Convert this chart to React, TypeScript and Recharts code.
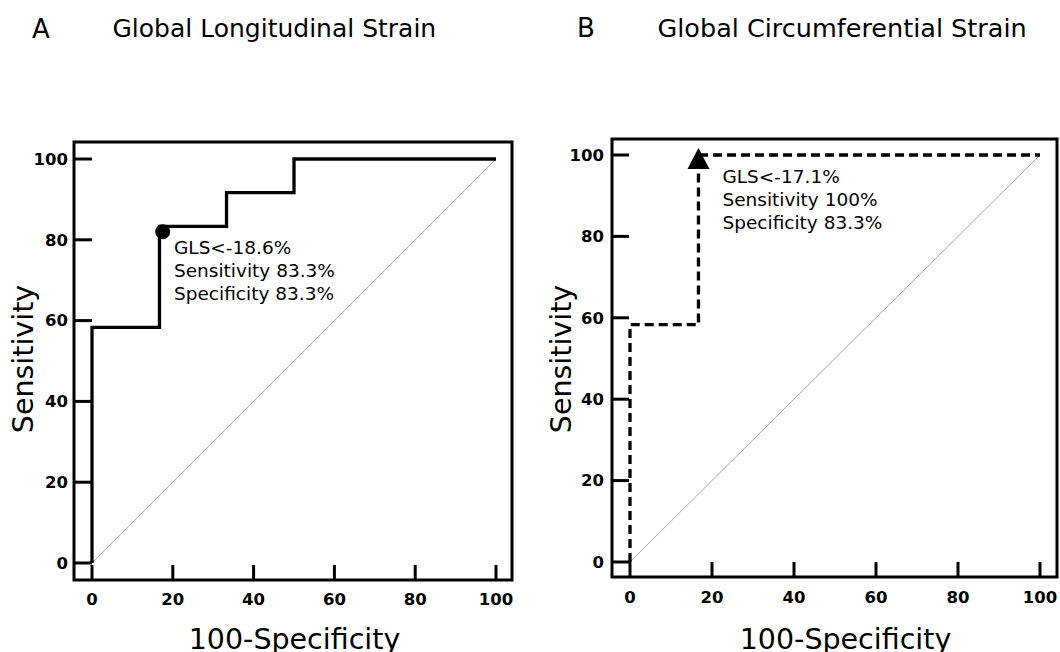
import { LineChart, Line, XAxis, YAxis, ReferenceArea, ReferenceDot } from 'recharts';

// ── Data ──────────────────────────────────────────────────────────────────────

const TICKS = [0, 20, 40, 60, 80, 100];

// ROC points, 100-specificity (x) vs sensitivity (y)
const GLS_FPR = [0, 0, 16.7, 16.7, 33.3, 33.3, 50, 50, 100];
const GLS_TPR = [0, 58.3, 58.3, 83.3, 83.3, 91.7, 91.7, 100, 100];
const GCS_FPR = [0, 0, 16.7, 16.7, 100];
const GCS_TPR = [0, 58.3, 58.3, 100, 100];
const DIAG_X = [0, 100];
const DIAG_Y = [0, 100];

const GLS_CUT_X = 17.5;
const GLS_CUT_Y = 82;
const GLS_CUT_TEXT = ['GLS<-18.6%', 'Sensitivity 83.3%', 'Specificity 83.3%'];
const GCS_CUT_X = 16.7;
const GCS_CUT_Y = 100;
const GCS_CUT_TEXT = ['GLS<-17.1%', 'Sensitivity 100%', 'Specificity 83.3%'];

const toPoints = (xs: number[], ys: number[]) => xs.map((x, i) => ({ x, y: ys[i] }));

const FONT = 'DejaVu Sans, Verdana, sans-serif';

// ── Pieces ────────────────────────────────────────────────────────────────────

function cutLabel(lines: string[], dx: number, dy: number) {
  return ({ viewBox }: any) => {
    const cx = viewBox.x + viewBox.width / 2;
    const cy = viewBox.y + viewBox.height / 2;
    return (
      <text x={cx + dx} y={cy + dy} fontFamily={FONT} fontSize={18.5} fill="#000">
        {lines.map((t, i) => (
          <tspan key={i} x={cx + dx} dy={i === 0 ? 0 : 23}>{t}</tspan>
        ))}
      </text>
    );
  };
}

const Triangle = ({ cx, cy }: any) => (
  <polygon points={`${cx},${cy - 7} ${cx - 11},${cy + 14} ${cx + 11},${cy + 14}`} fill="#000" />
);

function RocPanel(p: any) {
  const roc = toPoints(p.fpr, p.tpr);
  const diag = toPoints(DIAG_X, DIAG_Y);
  return (
    <div style={{ position: 'absolute', left: p.left, top: 0 }}>
      <LineChart width={530} height={652} margin={{ top: p.top, right: p.right, bottom: 0, left: 0 }}>
        <XAxis
          type="number" dataKey="x" domain={p.xDomain} ticks={TICKS}
          height={p.xAxisHeight} axisLine={false}
          tickSize={-15} tickMargin={p.xTickMargin}
          tickLine={{ stroke: '#000', strokeWidth: 3 }}
          tick={{ fill: '#000', fontSize: 16.5, fontWeight: 'bold', fontFamily: FONT }}
          label={{
            content: ({ viewBox }: any) => (
              <text x={viewBox.x + viewBox.width / 2 + p.xLabelDx} y={viewBox.y + viewBox.height - 3}
                textAnchor="middle" fontFamily={FONT} fontSize={28.5} fill="#000">100-Specificity</text>
            ),
          }}
        />
        <YAxis
          type="number" dataKey="y" domain={p.yDomain} ticks={TICKS}
          width={p.yAxisWidth} axisLine={false}
          tickSize={-p.yTickLen} tickMargin={p.yTickMargin}
          tickLine={{ stroke: '#000', strokeWidth: 3 }}
          tick={{ fill: '#000', fontSize: 16.5, fontWeight: 'bold', fontFamily: FONT }}
          label={{
            content: ({ viewBox }: any) => {
              const x = viewBox.x + viewBox.width - 41;
              const y = 359;
              return (
                <text x={x} y={y} transform={`rotate(-90, ${x}, ${y})`} textAnchor="middle"
                  fontFamily={FONT} fontSize={28.5} fill="#000">Sensitivity</text>
              );
            },
          }}
        />
        <ReferenceArea x1={p.xDomain[0]} x2={p.xDomain[1]} y1={p.yDomain[0]} y2={p.yDomain[1]}
          fill="none" fillOpacity={0} stroke="#000" strokeWidth={3} ifOverflow="visible" />
        <Line data={diag} dataKey="y" stroke="#a6a6a6" strokeWidth={1} dot={false} isAnimationActive={false} />
        <Line data={roc} dataKey="y" stroke="#000" strokeWidth={3.3}
          strokeDasharray={p.dashed ? '9 5' : undefined} strokeLinecap="butt"
          dot={false} isAnimationActive={false} />
        <ReferenceDot x={p.cutX} y={p.cutY} r={p.marker === 'circle' ? 7.5 : 10}
          fill="#000" stroke="none" ifOverflow="visible"
          shape={p.marker === 'triangle' ? Triangle : undefined}
          label={{ content: cutLabel(p.cutText, p.labelDx, p.labelDy) }} />
      </LineChart>
    </div>
  );
}

// ── Main component ────────────────────────────────────────────────────────────

export default function App() {
  return (
    <div style={{ position: 'absolute', left: 0, top: 0, width: 1060, height: 652, background: '#fff', overflow: 'hidden' }}>
      <RocPanel
        left={0} top={142} right={18} yAxisWidth={74} xAxisHeight={72}
        xDomain={[-4.455, 103.96]} yDomain={[-4.21, 104.21]}
        yTickLen={18} yTickMargin={24} xTickMargin={28.3} xLabelDx={1.5}
        fpr={GLS_FPR} tpr={GLS_TPR} dashed={false}
        cutX={GLS_CUT_X} cutY={GLS_CUT_Y} cutText={GLS_CUT_TEXT} marker="circle"
        labelDx={11.3} labelDy={22}
      />
      <RocPanel
        left={530} top={139} right={3} yAxisWidth={82} xAxisHeight={75}
        xDomain={[-4.39, 104.15]} yDomain={[-3.69, 103.93]}
        yTickLen={17} yTickMargin={25} xTickMargin={29.3} xLabelDx={11}
        fpr={GCS_FPR} tpr={GCS_TPR} dashed={true}
        cutX={GCS_CUT_X} cutY={GCS_CUT_Y} cutText={GCS_CUT_TEXT} marker="triangle"
        labelDx={24} labelDy={28}
      />
      <svg width={1060} height={652} style={{ position: 'absolute', left: 0, top: 0, pointerEvents: 'none' }}>
        <g fontFamily={FONT} fill="#000">
          <text x={32} y={38} fontSize={26}>A</text>
          <text x={112.5} y={37} fontSize={25}>Global Longitudinal Strain</text>
          <text x={577} y={36.5} fontSize={26}>B</text>
          <text x={657.5} y={37} fontSize={25.5}>Global Circumferential Strain</text>
        </g>
      </svg>
    </div>
  );
}
